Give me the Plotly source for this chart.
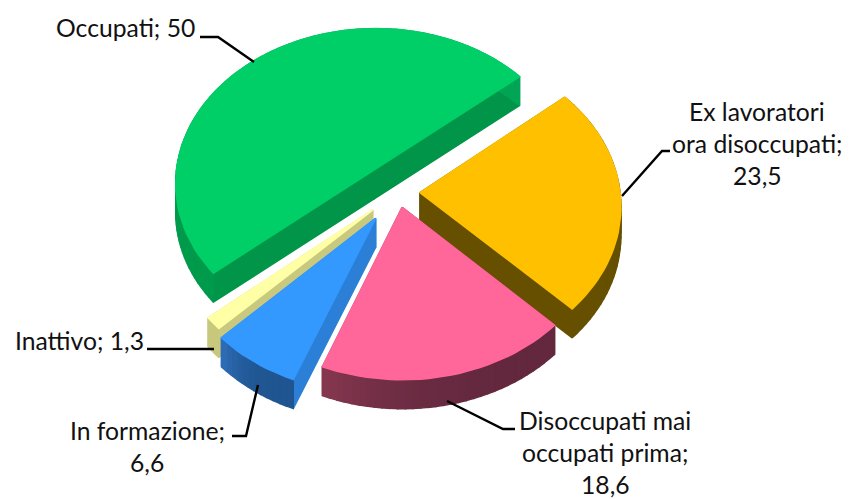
import math
import plotly.graph_objects as go

# ---- data ----
categories = ["Occupati", "Ex lavoratori ora disoccupati", "Disoccupati mai occupati prima", "In formazione", "Inattivo"]
values = [50, 23.5, 18.6, 6.6, 1.3]
value_labels = ["50", "23,5", "18,6", "6,6", "1,3"]
top_colors = ["#00CF68", "#FFC000", "#FF6699", "#3399FF", "#FFFFA6"]
rim_from = ["#009A4C", "#665000", "#63283E", "#1F5590", "#C8C87E"]
rim_to = ["#00A555", "#665000", "#85374F", "#2D6CB5", "#C8C87E"]
cut_colors = ["#009548", "#665000", "#85374F", "#2B7FD6", "#C8C87E"]
pulls = [0.187, 0.11, 0.10, 0.20, 0.17]

# ---- projection of the tilted pie ----
CX, CY = 398, 192
FX, FY, PERSP = 200, 156, 0.08
DEPTH = 29
START = 50 - 180  # clockwise degrees from 12 o'clock where the first slice starts
DRAW_ORDER = [0, 1, 4, 3, 2]
PAGE_MARGIN = 8  # the page body's own margin


def project(u, v):
    s = 1 / (1 + PERSP * v)
    return CX + FX * u * s, CY - FY * v * s


def mix(a, b, t):
    ca = [int(a[i:i + 2], 16) for i in (1, 3, 5)]
    cb = [int(b[i:i + 2], 16) for i in (1, 3, 5)]
    return "#%02x%02x%02x" % tuple(round(x + (y - x) * t) for x, y in zip(ca, cb))


def poly(fig, pts, color, lw=1.4):
    fig.add_trace(go.Scatter(
        x=[p[0] for p in pts] + [pts[0][0]], y=[p[1] for p in pts] + [pts[0][1]],
        mode="lines", fill="toself", fillcolor=color,
        line=dict(color=color, width=lw), hoverinfo="skip", showlegend=False))


fig = go.Figure()
total = sum(values)
spans = []
a = START
for val in values:
    b = a + 360 * val / total
    spans.append((a, b))
    a = b

for i in DRAW_ORDER:
    a0, a1 = spans[i]
    mid = math.radians((a0 + a1) / 2)
    ou, ov = pulls[i] * math.sin(mid), pulls[i] * math.cos(mid)
    n = max(12, int((a1 - a0) / 2))
    rim = []
    for k in range(n + 1):
        t = math.radians(a0 + (a1 - a0) * k / n)
        rim.append(project(ou + math.sin(t), ov + math.cos(t)))
    apex = project(ou, ov)
    down = lambda p: (p[0], p[1] + DEPTH)
    # cut faces
    poly(fig, [apex, rim[0], down(rim[0]), down(apex)], cut_colors[i])
    poly(fig, [apex, rim[-1], down(rim[-1]), down(apex)], cut_colors[i])
    # outer wall, in short strips so the shading can vary along it
    for k in range(n):
        poly(fig, [rim[k], rim[k + 1], down(rim[k + 1]), down(rim[k])],
             mix(rim_from[i], rim_to[i], (k / (n - 1)) ** 3))
    poly(fig, [apex] + rim, top_colors[i], lw=1.6)

# ---- labels and leader lines ----
label_lines = [
    ["Occupati; " + value_labels[0]],
    ["Ex lavoratori", "ora disoccupati;", value_labels[1]],
    ["Disoccupati mai", "occupati prima;", value_labels[2]],
    ["In formazione;", value_labels[3]],
    ["Inattivo; " + value_labels[4]],
]
label_xy = [(125, 27), (757, 111), (605, 420), (147, 430), (79, 340)]
LINE_STEP = 32
leaders = [
    [(200, 37), (218, 37), (254, 62)],
    [(622, 196), (662, 151), (670, 151)],
    [(447, 401), (503, 429), (515, 429)],
    [(258, 385), (246, 436), (232, 436)],
    [(147, 349), (214, 349)],
]
for pts in leaders:
    fig.add_trace(go.Scatter(x=[p[0] for p in pts], y=[p[1] for p in pts], mode="lines",
                             line=dict(color="#000000", width=2.4), hoverinfo="skip", showlegend=False))
for lines, (lx, ly) in zip(label_lines, label_xy):
    for j, line in enumerate(lines):
        fig.add_annotation(x=lx, y=ly + j * LINE_STEP, text=line, showarrow=False, xref="x", yref="y",
                           xanchor="center", yanchor="middle",
                           font=dict(family="Lato", size=24.7, color="#111111"))

fig.update_layout(
    width=853 - PAGE_MARGIN, height=499 - PAGE_MARGIN, margin=dict(l=0, r=0, t=0, b=0),
    paper_bgcolor="white", plot_bgcolor="white", showlegend=False,
    xaxis=dict(range=[PAGE_MARGIN, 853], visible=False, fixedrange=True),
    yaxis=dict(range=[499, PAGE_MARGIN], visible=False, fixedrange=True),
)
fig.write_html("out.html", config=dict(displayModeBar=False))
